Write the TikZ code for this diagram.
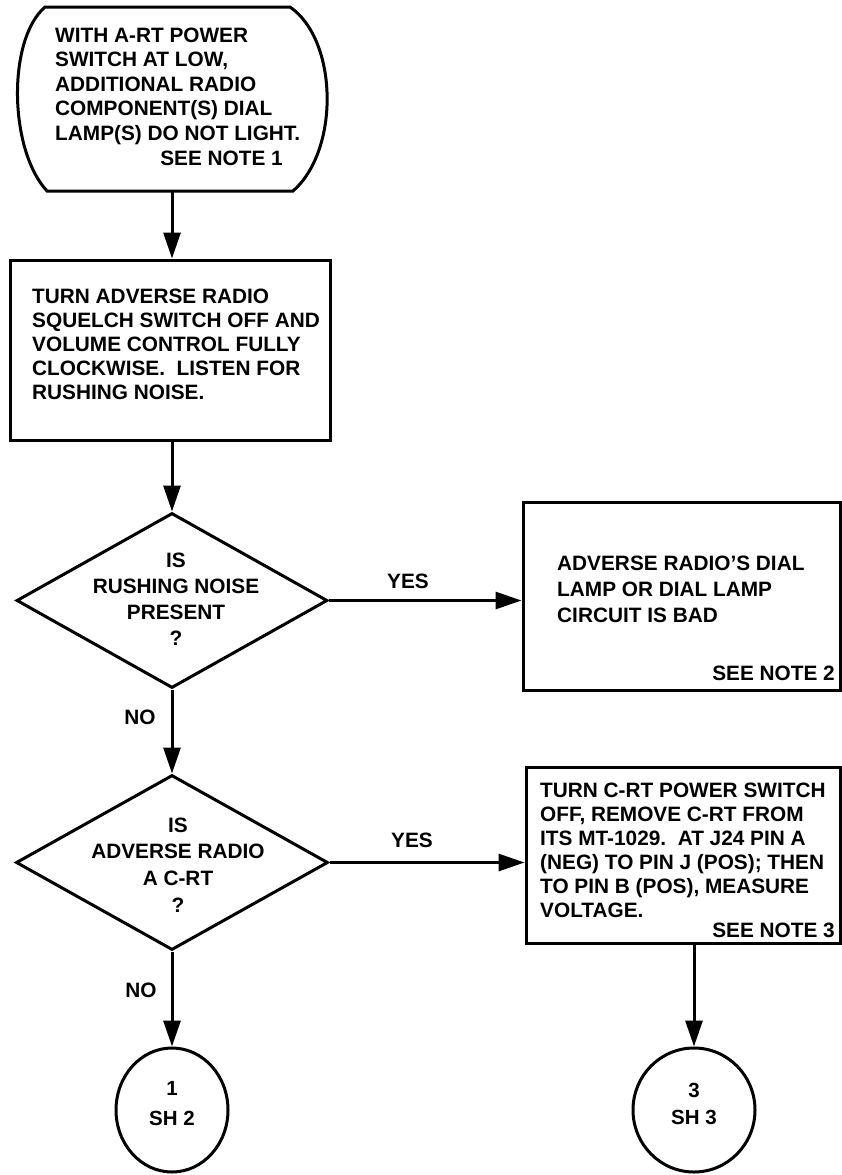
\documentclass[tikz,border=0pt]{standalone}
\usepackage{fontspec}
\setmainfont{Liberation Sans}
\usetikzlibrary{arrows.meta,shapes.geometric}
\newcommand\fsz[2]{\bfseries\fontsize{#1}{#2}\selectfont}
\begin{document}
\begin{tikzpicture}[x=1pt,y=-1pt,
  txt/.style={font=\fsz{20.8}{24}, inner sep=0pt, align=left},
  box/.style={draw, line width=3pt, rectangle, inner sep=0pt},
  dia/.style={draw, line width=3pt, diamond, inner sep=0pt},
  rnd/.style={draw, line width=3pt, ellipse, inner sep=0pt},
  conn/.style={line width=3pt, -{Triangle[length=26pt,width=17pt]}}
]
\useasboundingbox (0,0) rectangle (842,1175);

% start terminal
\node[inner sep=0pt, minimum width=309pt, minimum height=184pt] (start) at (172,99) {};
\draw[line width=3pt] (45,7) -- (290,7) .. controls (338,40) and (340,150) .. (293,191)
  -- (47,191) .. controls (9,150) and (7,40) .. cycle;
\node[txt, anchor=west, font=\fsz{20.8}{24.5}] (t0) at (55,86.2)
  {WITH A-RT POWER\\SWITCH AT LOW,\\ADDITIONAL RADIO\\COMPONENT(S) DIAL\\LAMP(S) DO NOT LIGHT.};
\node[txt, anchor=east] (n1) at (283,158) {SEE NOTE 1};

% box 1
\node[box, minimum width=320pt, minimum height=180pt] (b1) at (170,350) {};
\node[txt, anchor=west] (t1) at (32,344.5)
  {TURN ADVERSE RADIO\\SQUELCH SWITCH OFF AND\\VOLUME CONTROL FULLY\\CLOCKWISE.\ \ LISTEN FOR\\RUSHING NOISE.};

% decision 1
\node[dia, minimum width=311pt, minimum height=175pt] (d1) at (172,600.5) {};
\node[txt, align=center, font=\fsz{20.8}{26}] (q1) at (176,599) {IS\\RUSHING NOISE\\PRESENT\\?};

% box 2
\node[box, minimum width=317pt, minimum height=188pt] (b2) at (681.5,596) {};
\node[txt, anchor=west, font=\fsz{20.8}{26}] (t2) at (557,589.5)
  {ADVERSE RADIO’S DIAL\\LAMP OR DIAL LAMP\\CIRCUIT IS BAD};
\node[txt, anchor=east] (n2) at (835,673) {SEE NOTE 2};

% decision 2
\node[dia, minimum width=312pt, minimum height=175pt] (d2) at (172,862.5) {};
\node[txt, align=center, font=\fsz{20.8}{26.7}] (q2) at (178,865) {IS\\ADVERSE RADIO\\A C-RT\\?};

% box 3
\node[box, minimum width=314pt, minimum height=176pt] (b3) at (683,855) {};
\node[txt, anchor=west] (t3) at (540,850)
  {TURN C-RT POWER SWITCH\\OFF, REMOVE C-RT FROM\\ITS MT-1029.\ \ AT J24 PIN A\\(NEG) TO PIN J (POS); THEN\\TO PIN B (POS), MEASURE\\VOLTAGE.};
\node[txt, anchor=east] (n3) at (835,930) {SEE NOTE 3};

% off-page connectors
\node[rnd, minimum width=112pt, minimum height=124pt] (c1) at (172,1110) {};
\node[txt, align=center, font=\fsz{20.5}{30}] (k1) at (172,1104) {1\\SH 2};
\node[rnd, minimum width=122pt, minimum height=124pt] (c2) at (694,1110) {};
\node[txt, align=center, font=\fsz{20.5}{27}] (k2) at (694,1103.5) {3\\SH 3};

% labels
\node[txt] (y1) at (408,581) {YES};
\node[txt] (y2) at (412,840) {YES};
\node[txt] (no1) at (140,717) {NO};
\node[txt] (no2) at (141,990) {NO};

% flow lines
\draw[conn] (start.south) -- (start.south |- b1.north);
\draw[conn] (d1.north |- b1.south) -- (d1.north);
\draw[conn] (d1.east) -- (d1.east -| b2.west);
\draw[conn] (d1.south) -- (d2.north);
\draw[conn] (d2.east) -- (d2.east -| b3.west);
\draw[conn] (d2.south) -- (c1.north);
\draw[conn] (c2.north |- b3.south) -- (c2.north);
\end{tikzpicture}
\end{document}
